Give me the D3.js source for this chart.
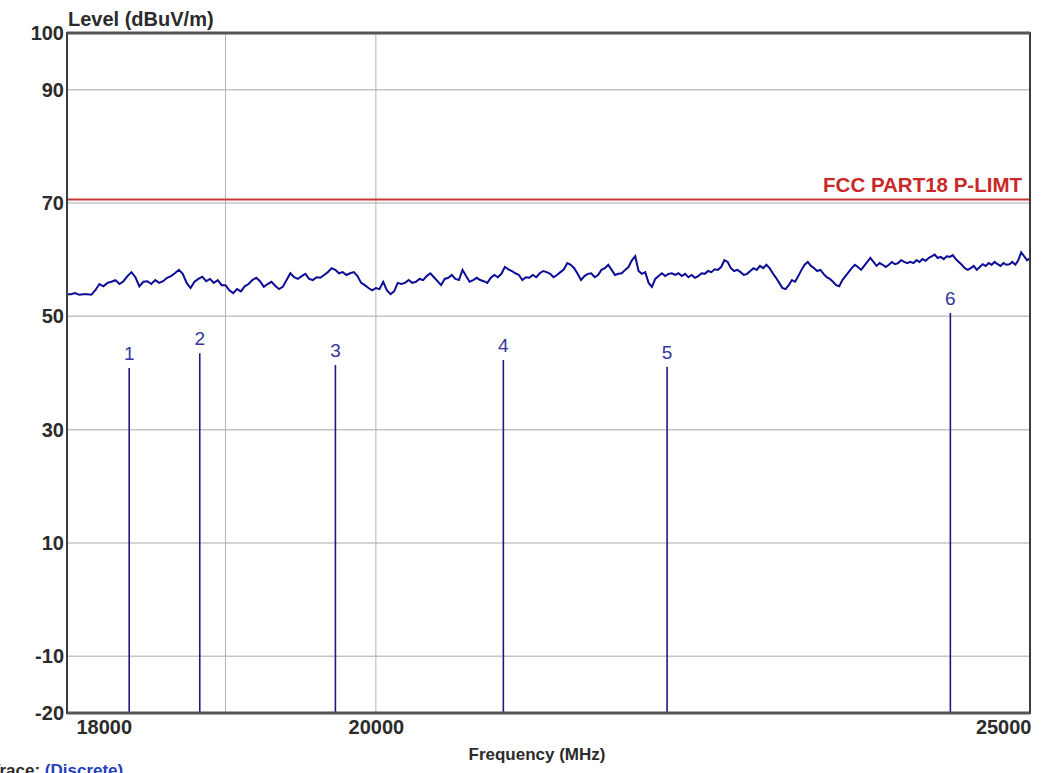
<!DOCTYPE html>
<html>
<head>
<meta charset="utf-8">
<script src="https://cdn.jsdelivr.net/npm/d3@7"></script>
<style>
  body { margin: 0; background: #fff; }
  svg { display: block; font-family: "Liberation Sans", Arial, sans-serif; }
  .tick-lbl { font-weight: bold; font-size: 20px; fill: #2b2b2b; }
  .axis-title { font-weight: bold; font-size: 17px; fill: #2b2b2b; }
  .mk-lbl { font-size: 19px; fill: #3535a0; }
</style>
</head>
<body>
<div id="chart"></div>
<script>
// sweep 18000 - 25000 MHz, 25 MHz step
var sweepStart = 18000, sweepStep = 25;
var traceLevels = [
  53.9,53.9,54.1,53.8,53.9,53.9,53.8,54.6,55.7,55.3,55.9,56.1,56.4,55.7,56.2,57.1,57.8,56.9,55.3,56.1,
  56.2,55.7,56.4,55.9,56.2,56.8,57.1,57.6,58.2,57.5,55.9,55.0,56.1,56.6,57.0,56.2,56.6,55.9,56.4,55.5,
  55.5,54.6,54.1,54.8,54.4,55.3,55.7,56.4,56.8,56.2,55.2,55.7,56.1,55.4,54.8,55.2,56.4,57.6,56.9,56.6,
  57.1,57.5,56.6,56.4,56.9,56.8,57.3,57.8,58.5,58.2,57.6,57.8,57.3,57.6,57.8,57.1,55.9,55.5,55.0,54.6,
  55.0,54.8,56.1,54.6,53.9,54.4,55.9,55.7,55.9,56.4,55.9,56.1,56.6,56.4,57.1,57.6,56.9,56.2,55.5,56.6,
  56.8,57.3,56.6,56.4,58.2,57.1,56.1,56.4,56.8,56.4,56.2,55.9,56.8,57.3,56.9,57.5,58.7,58.3,58.0,57.6,
  57.3,56.4,56.9,56.8,57.3,56.9,57.6,58.0,57.8,57.5,56.9,57.3,57.8,58.3,59.4,59.1,58.5,57.5,56.4,57.1,
  57.5,57.6,56.9,57.3,58.2,58.5,59.1,58.2,57.3,57.5,57.6,58.2,58.7,59.9,60.6,58.0,57.5,57.8,55.9,55.2,
  56.6,57.1,57.6,57.1,57.5,57.6,57.3,57.6,57.1,57.5,56.9,57.3,56.8,57.1,57.6,57.5,58.0,57.8,58.3,58.2,
  58.7,59.9,59.6,58.5,58.0,58.2,57.8,57.3,57.5,58.0,58.5,58.2,58.9,58.5,59.1,58.5,57.6,56.8,55.9,55.0,
  54.8,55.5,56.4,56.1,57.1,58.2,59.1,59.6,58.9,58.5,58.0,58.2,57.5,56.9,56.6,56.1,55.5,55.3,56.4,57.1,
  57.8,58.5,59.1,58.7,58.2,58.9,59.6,60.3,59.6,58.9,59.4,59.1,58.7,59.1,59.6,59.2,59.4,59.9,59.6,59.4,
  59.6,59.4,59.9,59.6,60.1,59.8,60.3,60.6,60.9,60.3,60.5,60.1,60.6,60.5,60.8,60.1,59.6,59.1,58.5,58.2,
  58.5,58.9,58.2,58.7,59.2,58.9,59.4,59.1,59.6,59.2,58.9,59.4,59.1,59.2,59.6,59.1,59.9,61.3,60.6,59.9,
  60.3
];

var markerIds = ["1", "2", "3", "4", "5", "6"];
var markerFreqs = [18386, 18834, 19726, 20889, 22089, 24330];
var markerLevels = [40.9, 43.5, 41.4, 42.3, 41.1, 50.6];

var limitLevel = 70.6;
var limitName = "FCC PART18 P-LIMT";

var yTickValues = [100, 90, 70, 50, 30, 10, -10, -20];
var yGridValues = [90, 70, 50, 30, 10, -10];
var xTickValues = [18000, 20000, 25000];
var xGridValues = [19000, 20000];

var W = 1053, H = 773;
var padL = 67, padR = 1030, padT = 33, padB = 713;

var svg = d3.select("#chart").append("svg")
    .attr("width", W)
    .attr("height", H);

var x = d3.scaleLog().domain([18000, 25000]).range([padL, padR]);
var y = d3.scaleLinear().domain([-20, 100]).range([padB, padT]);

// grid
svg.append("g").selectAll("line")
  .data(yGridValues)
  .enter().append("line")
    .attr("x1", padL).attr("x2", padR)
    .attr("y1", function(d) { return y(d); })
    .attr("y2", function(d) { return y(d); })
    .attr("stroke", "#c4c4c4")
    .attr("stroke-width", 1.5);

svg.append("g").selectAll("line")
  .data(xGridValues)
  .enter().append("line")
    .attr("x1", function(d) { return x(d); })
    .attr("x2", function(d) { return x(d); })
    .attr("y1", padT).attr("y2", padB)
    .attr("stroke", "#b4b4b4")
    .attr("stroke-width", 1);

// limit line
svg.append("line")
    .attr("x1", padL).attr("x2", padR)
    .attr("y1", y(limitLevel)).attr("y2", y(limitLevel))
    .attr("stroke", "#c83838")
    .attr("stroke-width", 2);

svg.append("text")
    .attr("x", padR - 8)
    .attr("y", y(limitLevel) - 8)
    .attr("text-anchor", "end")
    .attr("font-weight", "bold")
    .attr("font-size", "20.5px")
    .attr("fill", "#c82828")
    .text(limitName);

// trace
var trace = traceLevels.map(function(v, i) {
  return [sweepStart + i * sweepStep, v];
});

svg.append("path")
    .datum(trace)
    .attr("fill", "none")
    .attr("stroke", "#0c0c96")
    .attr("stroke-width", 2)
    .attr("d", d3.line()
      .x(function(d) { return x(d[0]); })
      .y(function(d) { return y(d[1]); }));

// markers
var markers = markerIds.map(function(id, i) {
  return { id: id, f: markerFreqs[i], v: markerLevels[i] };
});

svg.append("g").selectAll("line")
  .data(markers)
  .enter().append("line")
    .attr("x1", function(d) { return x(d.f); })
    .attr("x2", function(d) { return x(d.f); })
    .attr("y1", y(-20))
    .attr("y2", function(d) { return y(d.v); })
    .attr("stroke", "#1c1c80")
    .attr("stroke-width", 1.6);

svg.append("g").selectAll("text")
  .data(markers)
  .enter().append("text")
    .attr("class", "mk-lbl")
    .attr("x", function(d) { return x(d.f); })
    .attr("y", function(d) { return y(d.v) - 8; })
    .attr("text-anchor", "middle")
    .text(function(d) { return d.id; });

// frame
svg.append("rect")
    .attr("x", padL).attr("y", padT)
    .attr("width", padR - padL).attr("height", padB - padT)
    .attr("fill", "none")
    .attr("stroke", "#3c3c3c")
    .attr("stroke-width", 2);
svg.append("line")
    .attr("x1", padL).attr("x2", padR)
    .attr("y1", padT).attr("y2", padT)
    .attr("stroke", "#555").attr("stroke-width", 3);
svg.append("line")
    .attr("x1", padL).attr("x2", padR)
    .attr("y1", padB).attr("y2", padB)
    .attr("stroke", "#555").attr("stroke-width", 3);

// y tick labels
var yAxis = svg.append("g")
    .attr("transform", "translate(" + padL + ",0)")
    .call(d3.axisLeft(y).tickValues(yTickValues).tickSize(0).tickPadding(3)
      .tickFormat(function(d) { return String(d); }));
yAxis.select(".domain").remove();
yAxis.attr("font-family", null).attr("font-size", null);
yAxis.selectAll("text")
    .attr("class", "tick-lbl")
    .attr("fill", null);

// x tick labels
var xAxis = svg.append("g")
    .attr("transform", "translate(0," + padB + ")")
    .call(d3.axisBottom(x).tickValues(xTickValues).tickSize(0).tickPadding(7)
      .tickFormat(function(d) { return String(d); }));
xAxis.select(".domain").remove();
xAxis.attr("font-family", null).attr("font-size", null);
xAxis.selectAll("text")
    .attr("class", "tick-lbl")
    .attr("fill", null)
    .attr("text-anchor", function(d) {
      if (d === 18000) return "start";
      if (d === 25000) return "end";
      return "middle";
    })
    .attr("dx", function(d) {
      if (d === 18000) return 9;
      if (d === 25000) return 1;
      return 0;
    });

// titles
svg.append("text")
    .attr("class", "axis-title")
    .attr("x", padL + 1)
    .attr("y", 26)
    .attr("font-size", "20px")
    .style("font-size", "20px")
    .text("Level (dBuV/m)");

svg.append("text")
    .attr("class", "axis-title")
    .attr("x", 537)
    .attr("y", 760)
    .attr("text-anchor", "middle")
    .text("Frequency (MHz)");

var trc = svg.append("text")
    .attr("x", -10)
    .attr("y", 776)
    .attr("font-weight", "bold")
    .attr("font-size", "17px");
trc.append("tspan").attr("fill", "#2b2b2b").text("Trace:  ");
trc.append("tspan").attr("fill", "#2040c0").text("(Discrete)");
</script>
</body>
</html>
